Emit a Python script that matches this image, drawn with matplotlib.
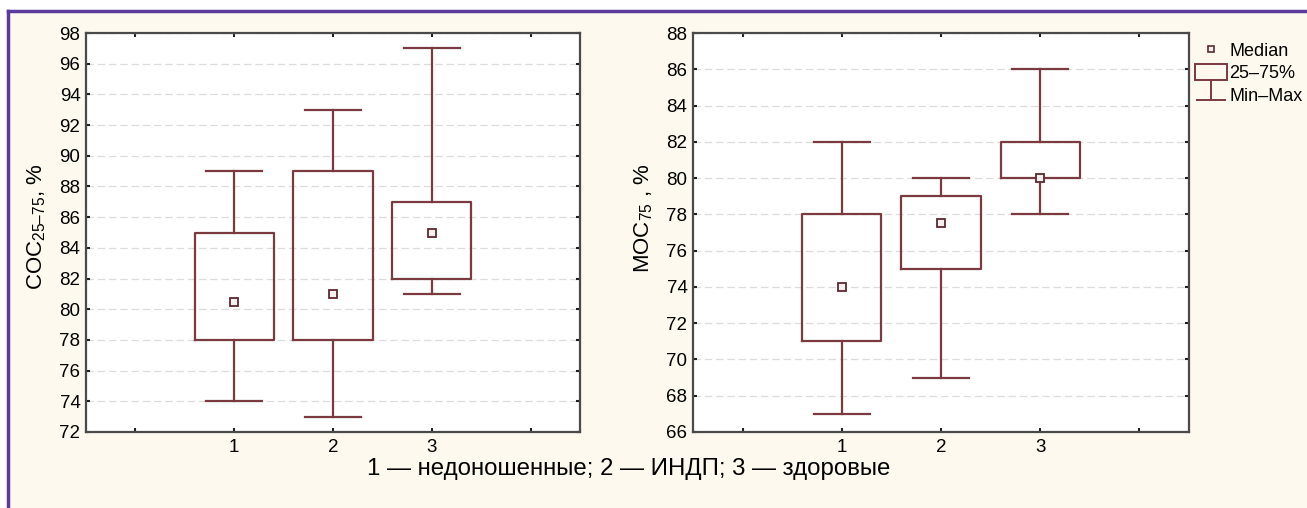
import matplotlib
matplotlib.use("Agg")
import matplotlib.pyplot as plt
from matplotlib.lines import Line2D
from matplotlib.patches import Rectangle, Patch
from matplotlib.path import Path

plt.rcParams['font.family'] = ['Liberation Sans', 'DejaVu Sans']
plt.rcParams['mathtext.fontset'] = 'custom'
plt.rcParams['mathtext.rm'] = 'Liberation Sans'
plt.rcParams['mathtext.it'] = 'Liberation Sans'

# ---- data ----
groups = [1, 2, 3]
coc_min = [74, 73, 81]
coc_q1 = [78, 78, 82]
coc_med = [80.5, 81, 85]
coc_q3 = [85, 89, 87]
coc_max = [89, 93, 97]

moc_min = [67, 69, 78]
moc_q1 = [71, 75, 80]
moc_med = [74, 77.5, 80]
moc_q3 = [78, 79, 82]
moc_max = [82, 80, 86]

coc_yticks = list(range(72, 99, 2))
moc_yticks = list(range(66, 89, 2))
xtick_pos = [0, 1, 2, 3, 4]
xtick_labels = ['', '1', '2', '3', '']

ylabel_left = 'СОС$_{\\mathregular{25–75}}$, %'
ylabel_right = 'МОС$_{\\mathregular{75}}$ , %'
caption = '1 — недоношенные; 2 — ИНДП; 3 — здоровые'
legend_labels = ['Median', '25–75%', 'Min–Max']

# ---- style ----
BOX = '#7a3a40'
SPINE = '#4a4a4a'
CREAM = '#fef9ef'
PURPLE = '#5a3a9a'
FS = 13.5

fig = plt.figure(figsize=(13.07, 5.08), dpi=100, facecolor='white')
fig.add_artist(Rectangle((8/1307, 0), 1, 1 - 11/508, transform=fig.transFigure,
                         facecolor=CREAM, edgecolor='none', zorder=-10))
fig.add_artist(Line2D([8/1307, 8/1307], [0, 1 - 11/508], transform=fig.transFigure,
                      color=PURPLE, lw=2.5))
fig.add_artist(Line2D([8/1307, 1], [1 - 11/508, 1 - 11/508], transform=fig.transFigure,
                      color=PURPLE, lw=2.5))

H = 1307.0
V = 508.0
ax1 = fig.add_axes([86/H, 1 - 432/V, (580 - 86)/H, (432 - 33)/V])
ax2 = fig.add_axes([693/H, 1 - 432/V, (1189 - 693)/H, (432 - 33)/V])


def draw(ax, mn, q1, md, q3, mx, yticks, ylabel):
    stats = []
    for i in range(len(groups)):
        stats.append(dict(whislo=mn[i], q1=q1[i], med=md[i], q3=q3[i], whishi=mx[i],
                          fliers=[]))
    ax.bxp(stats, positions=groups, widths=0.8, capwidths=0.57, showfliers=False,
           boxprops=dict(color=BOX, lw=1.6),
           whiskerprops=dict(color=BOX, lw=1.6),
           capprops=dict(color=BOX, lw=1.6),
           medianprops=dict(visible=False),
           manage_ticks=False)
    ax.plot(groups, md, linestyle='none', marker='s', markersize=5.5,
            mfc='#f4f0f0', mec='#5a2a30', mew=1.3, zorder=5)
    ax.set_xlim(-0.5, 4.5)
    ax.set_ylim(yticks[0], yticks[-1])
    ax.set_yticks(yticks)
    ax.set_xticks(xtick_pos)
    ax.set_xticklabels(xtick_labels)
    ax.yaxis.grid(True, color='#dcdcdc', linestyle=(0, (6, 3)), lw=0.9)
    ax.set_axisbelow(True)
    ax.tick_params(direction='in', length=3, width=1.5, color='#202020',
                   top=True, right=True, labelsize=FS, pad=4)
    ax.tick_params(axis='x', pad=5)
    for s in ax.spines.values():
        s.set_color(SPINE)
        s.set_linewidth(1.6)
    ax.set_ylabel(ylabel, fontsize=16)


draw(ax1, coc_min, coc_q1, coc_med, coc_q3, coc_max, coc_yticks, ylabel_left)
draw(ax2, moc_min, moc_q1, moc_med, moc_q3, moc_max, moc_yticks, ylabel_right)
ax1.yaxis.set_label_coords(-0.076, 0.515)
ax2.yaxis.set_label_coords(-0.076, 0.536)

fig.text(629/H, 1 - 469/V, caption, ha='center', va='center', fontsize=17.3)

# legend
minmax_path = Path([(0, 1), (0, -0.4), (-1, -0.4), (1, -0.4)],
                   [Path.MOVETO, Path.LINETO, Path.MOVETO, Path.LINETO])
handles = [
    Line2D([], [], linestyle='none', marker='s', markersize=5, mfc='#f4f0f0',
           mec='#5a2a30', mew=1.2),
    Patch(facecolor='none', edgecolor=BOX, lw=1.4),
    Line2D([], [], linestyle='none', marker=minmax_path, markersize=22,
           mec=BOX, mew=1.4),
]
fig.legend(handles, legend_labels, loc='upper left', bbox_to_anchor=(1195/H, 1 - 42/V),
           frameon=False, fontsize=13, handlelength=1.75, handleheight=1.0,
           handletextpad=0.15, labelspacing=0.22, borderaxespad=0, borderpad=0)

fig.savefig('out.png', dpi=100, facecolor=fig.get_facecolor())
